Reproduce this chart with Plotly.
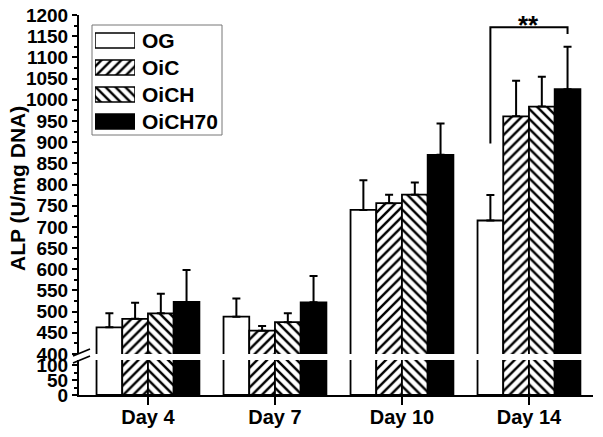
import plotly.graph_objects as go

# ---------------- data ----------------
days = ["Day 4", "Day 7", "Day 10", "Day 14"]
series = ["OG", "OiC", "OiCH", "OiCH70"]
og = [463, 488, 740, 715]
oic = [483, 455, 756, 961]
oich = [496, 475, 776, 984]
oich70 = [523, 522, 870, 1025]
og_err = [33, 43, 70, 60]
oic_err = [38, 11, 20, 84]
oich_err = [46, 21, 29, 70]
oich70_err = [75, 62, 74, 100]
upper_ticks = list(range(400, 1201, 50))
lower_ticks = [0, 50, 100]
sig_label = "**"
sig_top = 1171
sig_left_bottom = 897
sig_right_bottom = 1155

values = [og, oic, oich, oich70]
errors = [og_err, oic_err, oich_err, oich70_err]
fills = ["white", "white", "white", "black"]
patterns = ["", "/", "\\", ""]

# ---------------- layout geometry ----------------
W, H = 603, 437
L, R, T, B = 79, 10, 15, 42
PW, PH = W - L - R, H - T - B
def py(p):  # pixel y -> paper
    return (H - B - p) / PH
def px(p):
    return (p - L) / PW

bargap = 0.19
xpos = list(range(len(days)))
FONT = "Arial, Liberation Sans, sans-serif"

fig = go.Figure()

def pat(i):
    if patterns[i]:
        return dict(shape=patterns[i], fgcolor="black", bgcolor="white",
                    size=7, solidity=0.35, fillmode="replace")
    return dict(shape="")

for i, name in enumerate(series):
    # upper segment with error bars
    fig.add_trace(go.Bar(
        x=xpos, y=values[i], name=name, xaxis="x2", yaxis="y2",
        marker=dict(color=fills[i], line=dict(color="black", width=1.8), pattern=pat(i)),
        error_y=dict(type="data", symmetric=False, array=errors[i],
                     arrayminus=[0] * len(days), color="black", thickness=2, width=4),
        showlegend=False))
    # lower segment
    fig.add_trace(go.Bar(
        x=xpos, y=values[i], name=name, xaxis="x", yaxis="y",
        marker=dict(color=fills[i], line=dict(color="black", width=1.8), pattern=pat(i)),
        showlegend=False))
    # legend swatch
    fig.add_trace(go.Bar(
        x=[1], y=[i], orientation="h", xaxis="x3", yaxis="y3", width=0.56,
        marker=dict(color=fills[i], line=dict(color="black", width=1.5), pattern=pat(i)),
        showlegend=False, hoverinfo="skip"))

axis_common = dict(showline=True, linecolor="black", linewidth=2, ticks="outside",
                   tickcolor="black", tickwidth=2, showgrid=False, zeroline=False,
                   automargin=False,
                   tickfont=dict(family=FONT, size=19, color="black", weight="bold"))

x_range = [-0.543, -0.543 + PW / 127]

fig.update_layout(
    width=W, height=H, margin=dict(l=L, r=R, t=T, b=B),
    paper_bgcolor="white", plot_bgcolor="rgba(0,0,0,0)",
    barmode="group", bargap=bargap, bargroupgap=0,
    xaxis=dict(domain=[0, 1], range=x_range, anchor="y", tickvals=xpos, ticktext=days,
               showline=True, linecolor="black", linewidth=2, ticks="outside",
               ticklen=8, tickwidth=1.5, tickcolor="black", showgrid=False, zeroline=False,
               automargin=False, ticklabelstandoff=-5,
               tickfont=dict(family=FONT, size=20, color="black", weight="bold")),
    xaxis2=dict(domain=[0, 1], range=x_range, anchor="y2", matches="x", visible=False),
    yaxis=dict(domain=[0, py(360)], range=[0, 117], anchor="x", tickvals=lower_ticks,
               ticklen=5, minor=dict(dtick=25, ticklen=3, ticks="outside", tickwidth=1.5,
                                     tickcolor="black"), **axis_common),
    yaxis2=dict(domain=[py(354), 1], range=[400, 1200], anchor="x2", tickvals=upper_ticks,
                ticklen=5, minor=dict(dtick=25, ticklen=3, ticks="outside", tickwidth=1.5,
                                      tickcolor="black"), **axis_common),
    xaxis3=dict(domain=[px(95), px(135)], range=[0, 1], anchor="y3", visible=False),
    yaxis3=dict(domain=[py(135), py(27)], range=[len(series) - 0.5, -0.5], anchor="x3",
                visible=False),
)

# legend labels
for i, name in enumerate(series):
    fig.add_annotation(x=1, y=i, xref="x3", yref="y3", text=name, showarrow=False,
                       xanchor="left", yanchor="middle", xshift=5,
                       font=dict(family=FONT, size=21, color="black", weight="bold"))
# legend border
fig.add_shape(type="rect", xref="paper", yref="paper", x0=px(92), x1=px(222),
              y0=py(135), y1=py(25), line=dict(color="#777777", width=1))

# y-axis title
fig.add_annotation(x=px(17), y=py(189), xref="paper", yref="paper", text="ALP (U/mg DNA)",
                   textangle=-90, showarrow=False, xanchor="center", yanchor="middle",
                   font=dict(family=FONT, size=21, color="black", weight="bold"))

# axis break marks
for y0 in (356, 363):
    fig.add_shape(type="line", xref="paper", yref="paper", x0=px(73), y0=py(y0),
                  x1=px(90), y1=py(y0 - 7), line=dict(color="black", width=1.8))

# significance bracket
w = (1 - bargap) / len(series)
xl = xpos[3] - 1.5 * w
xr = xpos[3] + 1.5 * w
fig.add_shape(type="path", xref="x2", yref="y2",
              path=f"M {xl},{sig_left_bottom} L {xl},{sig_top} L {xr},{sig_top} L {xr},{sig_right_bottom}",
              line=dict(color="black", width=2))
fig.add_annotation(x=xpos[3], y=sig_top, xref="x2", yref="y2", text=sig_label, showarrow=False,
                   xanchor="center", yanchor="middle", yshift=2,
                   font=dict(family=FONT, size=26, color="black", weight="bold"))

fig.write_html("out.html", config={"displayModeBar": False},
               post_script="document.body.style.margin='0px';document.body.style.padding='0px';")
